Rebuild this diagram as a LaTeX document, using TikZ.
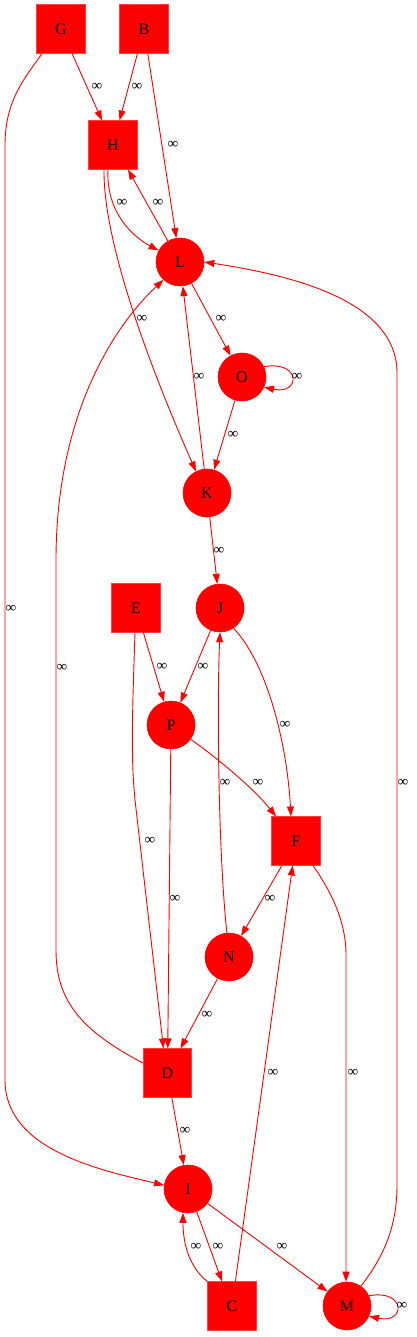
\documentclass[tikz,border=0pt]{standalone}
\usepackage{fontspec}
\setmainfont{Liberation Serif}
\usetikzlibrary{arrows.meta}
\begin{document}
\begin{tikzpicture}[x=1pt,y=-1pt,
  sq/.style={rectangle, minimum size=48.5pt, inner sep=0pt, fill=red, draw=red!75, line width=0.6pt, font=\fontsize{16}{19}\selectfont},
  ci/.style={circle, minimum size=48pt, inner sep=0pt, fill=red, draw=red, line width=0.6pt, font=\fontsize{16}{19}\selectfont},
  e/.style={draw=red, line width=0.9pt, -{Triangle[length=10pt,width=7pt]}},
  lab/.style={font=\fontsize{15}{18}\selectfont, inner sep=0pt}
]
\useasboundingbox (0,0) rectangle (416,1337);
% nodes
\node[sq] (G) at (61,29) {G};
\node[sq] (B) at (144,29) {B};
\node[sq] (H) at (113,145) {H};
\node[ci] (L) at (180,262) {L};
\node[ci] (O) at (242,377) {O};
\node[ci] (K) at (207,493) {K};
\node[sq] (E) at (136,608) {E};
\node[ci] (J) at (220,608) {J};
\node[ci] (P) at (171,725) {P};
\node[sq] (F) at (296,841) {F};
\node[ci] (N) at (229,957) {N};
\node[sq] (D) at (167.5,1073) {D};
\node[ci] (I) at (188,1189) {I};
\node[sq] (C) at (232,1306) {C};
\node[ci] (M) at (347,1306) {M};
% edges
\draw[e] (G) -- (H);
\draw[e] (B) -- (H);
\draw[e] (B) -- (L);
\draw[e] ([xshift=-5pt]H.south) .. controls (106,210) and (130,235) .. (L.152);
\draw[e] (L.120) -- ([xshift=15pt]H.south);
\draw[e] ([xshift=-9pt]H.south) .. controls (103,250) and (160,390) .. (K.117);
\draw[e] (L) -- (O);
\draw[e] (O.25) .. controls (301,360) and (301,395) .. (O.-25);
\draw[e] (O) -- (K);
\draw[e] (K) -- (L);
\draw[e] (K) -- (J);
\draw[e] ([xshift=-19pt]G.south) .. controls (25,78) and (5,100) .. (5,145) -- (5,1080) .. controls (5,1150) and (100,1170) .. (I.171);
\draw[e] ([yshift=10pt]D.west) .. controls (80,1030) and (56,1000) .. (56,950) -- (56,560) .. controls (56,420) and (110,330) .. (L.227);
\draw[e] (E) -- (P);
\draw[e] (J) -- (P);
\draw[e] (J.-56) .. controls (268,665) and (287,745) .. ([xshift=-5pt]F.north);
\draw[e] (P.-36) .. controls (220,760) and (255,790) .. ([xshift=-20pt]F.north);
\draw[e] ([xshift=-1pt]E.south) .. controls (132,720) and (131,760) .. (135,800) -- ([xshift=-4pt]D.north);
\draw[e] (P) -- (D);
\draw[e] (N.95) .. controls (218,850) and (217,700) .. (J.south);
\draw[e] (F) -- (N);
\draw[e] ([xshift=17pt]F.south) .. controls (330,890) and (346,920) .. (346,955) -- ([xshift=-1pt]M.north);
\draw[e] (N) -- (D);
\draw[e] (D) -- (I);
\draw[e] (C) -- (F);
\draw[e] (I.-69) -- ([xshift=-10pt]C.north);
\draw[e] (C.north west) .. controls (190,1268) and (183,1245) .. (I.-102);
\draw[e] (I) -- (M);
\draw[e] (M.25) .. controls (406,1289) and (406,1324) .. (M.-25);
\draw[e] (M.55) .. controls (385,1255) and (397,1225) .. (397,1185) -- (397,373) .. controls (397,300) and (290,275) .. (L.east);
% labels
\node[lab] (l1) at (97,87) {∞};
\node[lab] (l2) at (137,87) {∞};
\node[lab] (l3) at (173,145) {∞};
\node[lab] (l4) at (122,203) {∞};
\node[lab] (l5) at (158,203) {∞};
\node[lab] (l6) at (142,319) {∞};
\node[lab] (l7) at (221,319) {∞};
\node[lab] (l8) at (297,377) {∞};
\node[lab] (l9) at (199,377) {∞};
\node[lab] (l10) at (233,435) {∞};
\node[lab] (l11) at (219,551) {∞};
\node[lab] (l12) at (11,609) {∞};
\node[lab] (l13) at (62,668) {∞};
\node[lab] (l14) at (162,667) {∞};
\node[lab] (l15) at (203,667) {∞};
\node[lab] (l16) at (285,725) {∞};
\node[lab] (l17) at (258,783) {∞};
\node[lab] (l18) at (225,783) {∞};
\node[lab] (l19) at (403,783) {∞};
\node[lab] (l20) at (150,841) {∞};
\node[lab] (l21) at (175,899) {∞};
\node[lab] (l22) at (270,899) {∞};
\node[lab] (l23) at (207,1015) {∞};
\node[lab] (l24) at (273,1073) {∞};
\node[lab] (l25) at (353,1073) {∞};
\node[lab] (l26) at (185,1131) {∞};
\node[lab] (l27) at (196,1247) {∞};
\node[lab] (l28) at (218,1247) {∞};
\node[lab] (l29) at (282,1247) {∞};
\node[lab] (l30) at (402,1306) {∞};
\end{tikzpicture}
\end{document}
